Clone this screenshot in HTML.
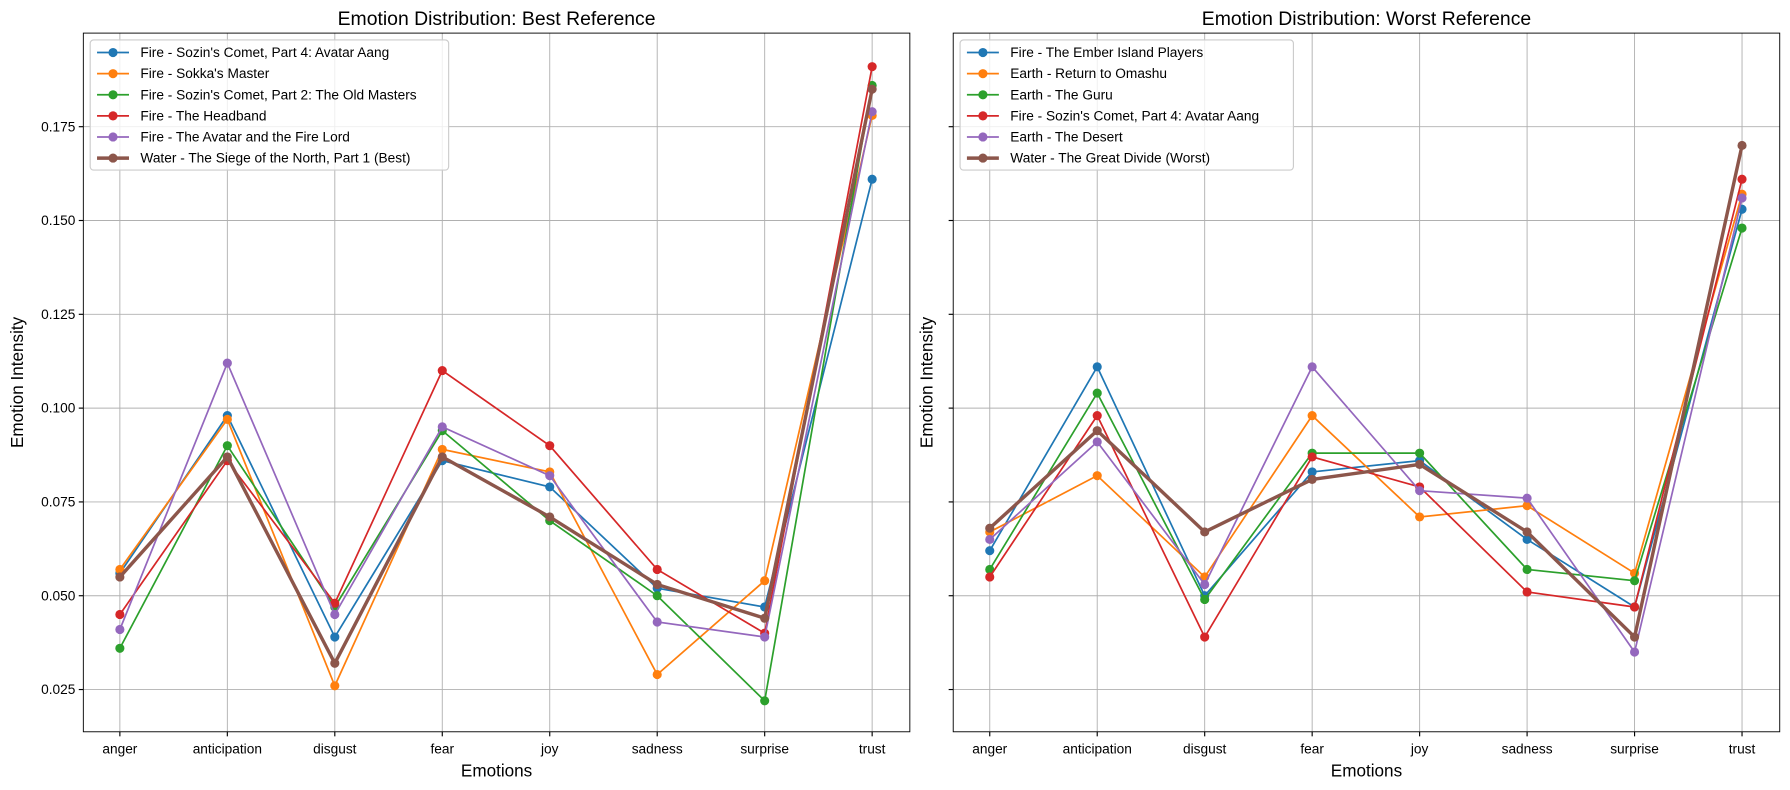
<!DOCTYPE html>
<html><head><meta charset="utf-8"><style>
body{margin:0;background:#fff;font-family:"Liberation Sans","DejaVu Sans",sans-serif}
svg{display:block}
</style></head><body>
<svg id="c" width="1790" height="790" viewBox="0 0 1568 692" preserveAspectRatio="none" xmlns="http://www.w3.org/2000/svg"></svg>
<script>
const categories=["anger","anticipation","disgust","fear","joy","sadness","surprise","trust"];
const yTicks=[0.025,0.050,0.075,0.100,0.125,0.150,0.175];
const bestNames=["Fire - Sozin's Comet, Part 4: Avatar Aang","Fire - Sokka's Master","Fire - Sozin's Comet, Part 2: The Old Masters","Fire - The Headband","Fire - The Avatar and the Fire Lord","Water - The Siege of the North, Part 1 (Best)"];
const best0=[0.056,0.098,0.039,0.086,0.079,0.052,0.047,0.161];
const best1=[0.057,0.097,0.026,0.089,0.083,0.029,0.054,0.178];
const best2=[0.036,0.090,0.047,0.094,0.070,0.050,0.022,0.186];
const best3=[0.045,0.086,0.048,0.110,0.090,0.057,0.040,0.191];
const best4=[0.041,0.112,0.045,0.095,0.082,0.043,0.039,0.179];
const best5=[0.055,0.087,0.032,0.087,0.071,0.053,0.044,0.185];
const worstNames=["Fire - The Ember Island Players","Earth - Return to Omashu","Earth - The Guru","Fire - Sozin's Comet, Part 4: Avatar Aang","Earth - The Desert","Water - The Great Divide (Worst)"];
const worst0=[0.062,0.111,0.050,0.083,0.086,0.065,0.047,0.153];
const worst1=[0.067,0.082,0.055,0.098,0.071,0.074,0.056,0.157];
const worst2=[0.057,0.104,0.049,0.088,0.088,0.057,0.054,0.148];
const worst3=[0.055,0.098,0.039,0.087,0.079,0.051,0.047,0.161];
const worst4=[0.065,0.091,0.053,0.111,0.078,0.076,0.035,0.156];
const worst5=[0.068,0.094,0.067,0.081,0.085,0.067,0.039,0.170];
const colors=["#1f77b4","#ff7f0e","#2ca02c","#d62728","#9467bd","#8c564b"];
const NS="http://www.w3.org/2000/svg";
const svg=document.getElementById("c");
function el(t,a,p){const e=document.createElementNS(NS,t);for(const k in a)e.setAttribute(k,a[k]);(p||svg).appendChild(e);return e;}
function yS(v){return 604-(v-0.025)/0.025*82.17;}
function panel(x0,title,names,series,showY,key){
  const g=el("g",{});
  
  
  const x1=x0+724,top=29,bot=641;
  const xS=i=>x0+32+i*94.14;
  yTicks.forEach(v=>{const y=yS(v);
    el("line",{x1:x0,x2:x1,y1:y,y2:y,stroke:"#b0b0b0","stroke-width":0.8},g);
    el("line",{x1:x0-4,x2:x0,y1:y,y2:y,stroke:"#000"},g);
    if(showY){const t=el("text",{x:x0-7,y:y+4,"text-anchor":"end","font-size":12},g);t.textContent=v.toFixed(3);
      }
  });
  categories.forEach((c,i)=>{const x=xS(i);
    el("line",{x1:x,x2:x,y1:top,y2:bot,stroke:"#b0b0b0","stroke-width":0.8},g);
    el("line",{x1:x,x2:x,y1:bot,y2:bot+4,stroke:"#000"},g);
    const t=el("text",{x:x,y:bot+19,"text-anchor":"middle","font-size":12},g);t.textContent=c;
    
  });
  el("rect",{x:x0,y:top,width:724,height:bot-top,fill:"none",stroke:"#000","stroke-width":0.8},g);
  let t=el("text",{x:x0+362,y:22,"text-anchor":"middle","font-size":17},g);t.textContent=title;
  
  t=el("text",{x:x0+362,y:680,"text-anchor":"middle","font-size":15},g);t.textContent="Emotions";
  
  const yx=showY?x0-53:x0-18;
  t=el("text",{x:yx,y:335,"text-anchor":"middle","font-size":15,transform:`rotate(-90 ${yx} 335)`},g);t.textContent="Emotion Intensity";
  
  series.forEach((s,k)=>{
    const pts=s.map((v,i)=>xS(i)+","+yS(v)).join(" ");
    const pl=el("polyline",{points:pts,fill:"none",stroke:colors[k],"stroke-width":k==5?3:1.5},g);
    
    s.forEach((v,i)=>{const c=el("circle",{cx:xS(i),cy:yS(v),r:4,fill:colors[k]},g);
      });
  });
  const lw=key=="best"?314:292;
  const lg=el("g",{},g);
  
  el("rect",{x:x0+6,y:35,width:lw,height:114,rx:3,fill:"#fff","fill-opacity":0.8,stroke:"#ccc"},lg);
  names.forEach((n,k)=>{const y=46+k*18.5;
    el("line",{x1:x0+12,x2:x0+40,y1:y,y2:y,stroke:colors[k],"stroke-width":k==5?3:1.5},lg);
    el("circle",{cx:x0+26,cy:y,r:4,fill:colors[k]},lg);
    const tt=el("text",{x:x0+50,y:y+4,"font-size":12},lg);tt.textContent=n;
    
  });
}
panel(73,"Emotion Distribution: Best Reference",bestNames,[best0,best1,best2,best3,best4,best5],true,"best");
panel(835,"Emotion Distribution: Worst Reference",worstNames,[worst0,worst1,worst2,worst3,worst4,worst5],false,"worst");
</script>
</body></html>
